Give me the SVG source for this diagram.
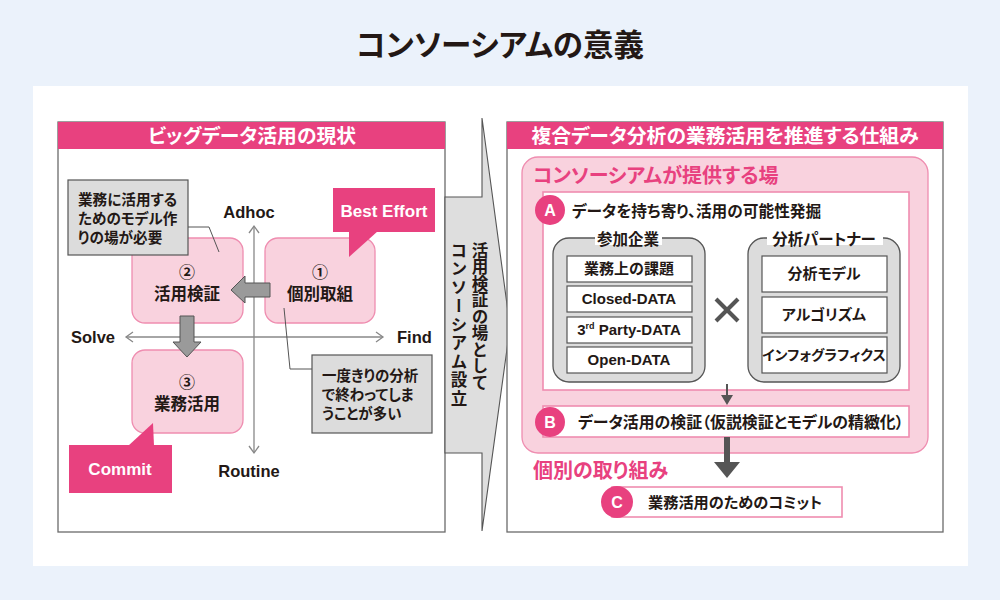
<svg xmlns="http://www.w3.org/2000/svg" width="1000" height="600" viewBox="0 0 1000 600">
<style>
.jp{font-family:"Noto Sans CJK JP","Noto Sans CJK SC",sans-serif;font-weight:700;font-feature-settings:"palt";fill:#231815}
.en{font-family:"Liberation Sans","Noto Sans CJK JP",sans-serif;font-weight:700;fill:#231815}
.w{fill:#fff}
.pk{fill:#e8417f}
.mid{text-anchor:middle}
.panel{fill:#fff;stroke:#6b6b6b;stroke-width:1.3}
.hdr{fill:#e8417f}
.pbox{fill:#f9d2de;stroke:#ef8db0;stroke-width:1.3}
.note{fill:#dcdcdc;stroke:#555;stroke-width:1.2}
.lead{fill:none;stroke:#555;stroke-width:1}
.axis{fill:none;stroke:#888;stroke-width:1.3}
.garrow{fill:#9a9a9a;stroke:#555;stroke-width:1}
.wbox{fill:#fff;stroke:#ef8db0;stroke-width:1.6}
.grp{fill:#dcdcdc;stroke:#555;stroke-width:1.3}
.item{fill:#fff;stroke:#555;stroke-width:1.2}
.circ{fill:#e8417f}
</style>
<rect x="0" y="0" width="1000" height="600" fill="#ebf2fb"/>
<rect x="33" y="86" width="935" height="480" fill="#fff"/>
<text class="jp mid" x="500" y="56" font-size="30.5" font-weight="900">コンソーシアムの意義</text>

<!-- Left panel -->
<g id="left-panel">
<rect class="panel" x="58" y="122" width="387" height="410"/>
<rect class="hdr" x="58" y="122" width="387" height="27"/>
<text class="jp w mid" x="252" y="143" font-size="19.8">ビッグデータ活用の現状</text>
</g>

<g id="axes">
<line class="axis" x1="254" y1="226" x2="254" y2="453"/>
<polyline class="axis" points="249,233 254,226 259,233"/>
<polyline class="axis" points="249,446 254,453 259,446"/>
<line class="axis" x1="126" y1="337" x2="383" y2="337"/>
<polyline class="axis" points="133,332 126,337 133,342"/>
<polyline class="axis" points="376,332 383,337 376,342"/>
<text class="en mid" x="249" y="218" font-size="16.5">Adhoc</text>
<text class="en" x="71" y="343" font-size="16.5">Solve</text>
<text class="en" x="397" y="343" font-size="16.5">Find</text>
<text class="en mid" x="249" y="477" font-size="16.5">Routine</text>
</g>

<g id="box2">
<rect class="pbox" x="132" y="238" width="111" height="85" rx="13"/>
<text class="jp mid" x="187" y="278" font-size="16">②</text>
<text class="jp mid" x="187" y="300" font-size="16.5">活用検証</text>
</g>
<g id="box1">
<rect class="pbox" x="265" y="238" width="110" height="85" rx="13"/>
<text class="jp mid" x="320" y="278" font-size="16">①</text>
<text class="jp mid" x="320" y="300" font-size="16.5">個別取組</text>
</g>
<g id="box3">
<rect class="pbox" x="132" y="350" width="111" height="83" rx="13"/>
<text class="jp mid" x="187" y="388" font-size="16">③</text>
<text class="jp mid" x="187" y="410" font-size="16.5">業務活用</text>
</g>

<g id="note1">
<rect class="note" x="68" y="180" width="120" height="75"/>
<text class="jp" x="78" y="205" font-size="14.6">業務に活用する</text>
<text class="jp" x="78" y="224" font-size="14.6">ためのモデル作</text>
<text class="jp" x="78" y="243" font-size="14.6">りの場が必要</text>
</g>
<g id="note2">
<rect class="note" x="312" y="355" width="120" height="78"/>
<text class="jp" x="322" y="381" font-size="14.5">一度きりの分析</text>
<text class="jp" x="322" y="400" font-size="14.5">で終わってしま</text>
<text class="jp" x="322" y="419" font-size="14.5">うことが多い</text>
</g>

<g id="best-effort">
<rect class="hdr" x="333" y="188" width="102" height="44"/>
<polygon class="hdr" points="349,231 349,257 378,231"/>
<text class="en mid" x="384" y="217" font-size="17" style="fill:#fff">Best Effort</text>
</g>
<g id="commit">
<rect class="hdr" x="69" y="445" width="103" height="48"/>
<polygon class="hdr" points="128,446 153,423 154,446"/>
<text class="en mid" x="120" y="475" font-size="17" style="fill:#fff">Commit</text>
</g>

<g id="left-connectors">
<polyline class="lead" points="188,227 209,227 219,252"/>
<polyline class="lead" points="284,308 290,369 312,369"/>
<polygon class="garrow" points="270,283 245,283 245,276 231,290 245,303 245,297 270,297"/>
<polygon class="garrow" points="180,316 194,316 194,342 201,342 187,357 173,342 180,342"/>
</g>

<!-- Middle arrow -->
<g id="middle-arrow">
<polygon points="482,118 510,327 482,531 482,453 445,453 445,197 482,197" fill="#dedede" stroke="#555" stroke-width="1.1"/>
<text class="jp" x="480" y="242" font-size="16.5" style="writing-mode:vertical-rl">活用検証の場として</text>
<text class="jp" x="459" y="242" font-size="16.5" letter-spacing="2" style="writing-mode:vertical-rl">コンソーシアム設立</text>
</g>

<!-- Right panel -->
<g id="right-panel">
<rect class="panel" x="507" y="122" width="436" height="410"/>
<rect class="hdr" x="507" y="122" width="436" height="27"/>
<text class="jp w mid" x="725" y="143" font-size="19.8">複合データ分析の業務活用を推進する仕組み</text>
</g>
<g id="consortium">
<rect class="pbox" x="522" y="157" width="406" height="296" rx="16"/>
<text class="jp pk" x="533" y="183" font-size="20">コンソーシアムが提供する場</text>
</g>
<g id="boxA">
<rect class="wbox" x="543" y="192" width="366" height="198"/>
<circle class="circ" cx="550" cy="210" r="15"/>
<text class="en mid" x="550" y="216" font-size="16" style="fill:#fff">A</text>
<text class="jp" x="572" y="217" font-size="15.7">データを持ち寄り、活用の可能性発掘</text>
</g>
<g id="participants">
<rect class="grp" x="553" y="238" width="152" height="144" rx="16"/>
<rect x="595" y="231" width="67" height="14" fill="#fff"/>
<text class="jp mid" x="628" y="245" font-size="15.5">参加企業</text>
<rect class="item" x="567" y="256" width="125" height="26"/>
<text class="jp mid" x="629" y="274" font-size="15">業務上の課題</text>
<rect class="item" x="567" y="286" width="125" height="26"/>
<text class="en mid" x="629" y="304" font-size="15">Closed-DATA</text>
<rect class="item" x="567" y="317" width="125" height="26"/>
<text class="en mid" x="629" y="335" font-size="15">3<tspan font-size="9" dy="-6">rd</tspan><tspan dy="6"> Party-DATA</tspan></text>
<rect class="item" x="567" y="347" width="125" height="26"/>
<text class="en mid" x="629" y="365" font-size="15">Open-DATA</text>
</g>
<g id="partners">
<rect class="grp" x="748" y="238" width="152" height="144" rx="16"/>
<rect x="767" y="231" width="116" height="14" fill="#fff"/>
<text class="jp mid" x="824" y="245" font-size="15.5">分析パートナー</text>
<rect class="item" x="762" y="256" width="125" height="36"/>
<text class="jp mid" x="824" y="279" font-size="15">分析モデル</text>
<rect class="item" x="762" y="297" width="125" height="36"/>
<text class="jp mid" x="824" y="320" font-size="15">アルゴリズム</text>
<rect class="item" x="762" y="337" width="125" height="36"/>
<text class="jp mid" x="824" y="360" font-size="14">インフォグラフィクス</text>
</g>
<g id="times">
<line x1="716" y1="299" x2="738" y2="321" stroke="#555" stroke-width="4"/>
<line x1="738" y1="299" x2="716" y2="321" stroke="#555" stroke-width="4"/>
</g>
<g id="boxB">
<rect class="wbox" x="543" y="406" width="366" height="31"/>
<circle class="circ" cx="550" cy="422" r="15"/>
<text class="en mid" x="550" y="428" font-size="16" style="fill:#fff">B</text>
<text class="jp" x="578" y="427.5" font-size="15.9">データ活用の検証（仮説検証とモデルの精緻化）</text>
</g>
<g id="individual">
<text class="jp pk" x="533" y="478" font-size="20">個別の取り組み</text>
</g>
<g id="boxC">
<rect class="wbox" x="612" y="487" width="230" height="30"/>
<circle class="circ" cx="617" cy="502" r="16"/>
<text class="en mid" x="617" y="508" font-size="16" style="fill:#fff">C</text>
<text class="jp" x="648" y="508" font-size="15.2">業務活用のためのコミット</text>
</g>
<g id="right-connectors">
<line x1="727" y1="384" x2="727" y2="397" stroke="#555" stroke-width="2"/>
<polygon points="721,395 733,395 727,405" fill="#555"/>
<rect x="724" y="437" width="6" height="26" fill="#555"/>
<polygon points="714,462 740,462 727,478" fill="#555"/>
</g>
</svg>
